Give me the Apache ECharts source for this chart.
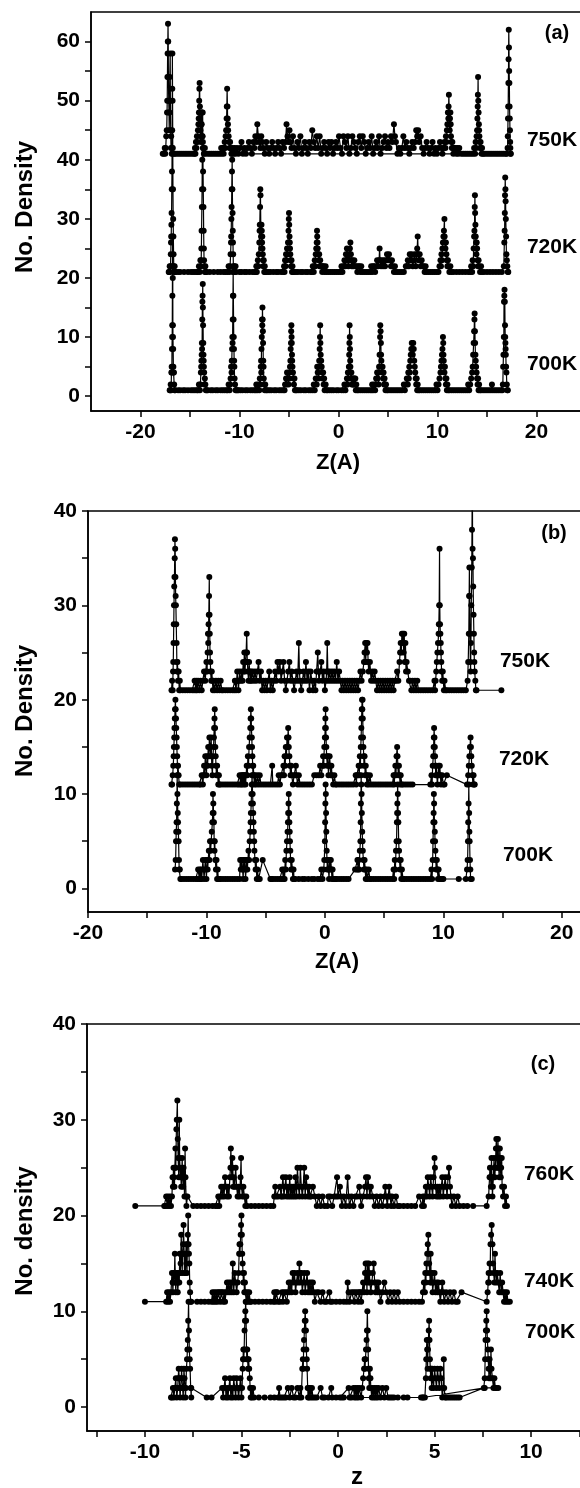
<!DOCTYPE html>
<html>
<head>
<meta charset="utf-8">
<title>No. Density</title>
<script src="https://cdn.jsdelivr.net/npm/echarts@6.0.0/dist/echarts.min.js"></script>
<style>
    html, body { margin: 0; padding: 0; background: #fff; overflow: hidden; }
    #main { width: 640px; height: 1488px; }
</style>
</head>
<body>
<div id="main"></div>
<script type="text/javascript">
    // ---- panel (a) ----
    var a700 = [[-17.05,1],[-17.0,1],[-16.95,2],[-16.9,1],[-16.88,4],[-16.85,5],[-16.83,4],[-16.82,8],[-16.8,10],[-16.79,12],[-16.78,17],[-16.77,22],[-16.76,27],[-16.74,20],[-16.73,12],[-16.72,10],[-16.7,8],[-16.68,5],[-16.66,4],[-16.63,4],[-16.6,2],[-16.55,1],[-16.5,1],
        [-16.2,1],[-16.0,1],[-15.7,1],[-15.5,1],[-15.2,1],[-14.9,1],[-14.7,1],[-14.5,1],[-14.3,1],
        [-14.2,1],[-14.1,2],[-14.0,1],[-13.95,2],[-13.9,4],[-13.87,5],[-13.85,6],[-13.82,7],[-13.8,9],[-13.78,8],[-13.76,13],[-13.75,16],[-13.73,17],[-13.71,19],[-13.7,15],[-13.68,12],[-13.66,9],[-13.64,7],[-13.62,6],[-13.6,5],[-13.57,4],[-13.55,2],[-13.5,3],[-13.45,2],[-13.4,1],[-13.3,1],[-13.2,1],
        [-12.9,1],[-12.7,1],[-12.4,1],[-12.2,1],[-11.9,1],[-11.7,1],[-11.5,1],[-11.3,1],
        [-11.2,1],[-11.1,2],[-11.0,1],[-10.95,2],[-10.9,3],[-10.85,5],[-10.8,4],[-10.78,6],[-10.75,8],[-10.72,10],[-10.7,9],[-10.68,13],[-10.66,17],[-10.64,21],[-10.62,17],[-10.6,13],[-10.58,10],[-10.56,8],[-10.54,6],[-10.52,5],[-10.5,3],[-10.45,2],[-10.4,1],[-10.3,1],[-10.2,1],[-10.1,1],
        [-9.9,1],[-9.7,1],[-9.4,1],[-9.2,1],[-8.9,1],[-8.7,1],[-8.5,1],
        [-8.35,1],[-8.3,2],[-8.2,1],[-8.1,2],[-8.0,1],[-7.95,3],[-7.9,2],[-7.85,5],[-7.82,6],[-7.8,4],[-7.78,8],[-7.75,10],[-7.72,13],[-7.7,12],[-7.68,15],[-7.66,13],[-7.64,11],[-7.62,9],[-7.6,6],[-7.57,5],[-7.55,3],[-7.5,2],[-7.45,1],[-7.4,2],[-7.3,1],[-7.2,1],
        [-7.0,1],[-6.8,1],[-6.5,1],[-6.3,1],[-6.0,1],[-5.8,1],[-5.6,1],
        [-5.45,1],[-5.4,2],[-5.3,3],[-5.25,2],[-5.2,4],[-5.1,3],[-5.05,2],[-5.0,4],[-4.95,3],[-4.9,5],[-4.86,6],[-4.83,8],[-4.8,9],[-4.78,11],[-4.76,12],[-4.74,10],[-4.72,9],[-4.7,7],[-4.68,6],[-4.65,5],[-4.6,4],[-4.55,3],[-4.5,2],[-4.45,3],[-4.4,1],[-4.3,1],[-4.2,1],
        [-4.0,1],[-3.8,1],[-3.5,1],[-3.3,1],[-3.0,1],[-2.8,1],[-2.6,1],
        [-2.5,2],[-2.4,1],[-2.3,3],[-2.2,2],[-2.15,5],[-2.1,4],[-2.05,5],[-2.0,3],[-1.95,6],[-1.9,8],[-1.87,10],[-1.85,12],[-1.83,9],[-1.8,7],[-1.77,5],[-1.75,6],[-1.7,5],[-1.65,4],[-1.6,3],[-1.55,4],[-1.5,2],[-1.45,3],[-1.4,1],[-1.3,2],[-1.2,1],[-1.1,1],
        [-0.9,1],[-0.7,1],[-0.5,1],[-0.2,1],[0.0,1],[0.3,1],[0.5,1],
        [0.6,2],[0.7,1],[0.8,2],[0.85,3],[0.9,2],[0.95,4],[1.0,3],[1.05,5],[1.08,7],[1.1,9],[1.12,12],[1.14,10],[1.16,8],[1.18,6],[1.2,5],[1.22,4],[1.25,3],[1.3,4],[1.35,2],[1.4,3],[1.45,2],[1.5,3],[1.55,2],[1.6,3],[1.65,2],[1.7,3],[1.75,1],[1.8,2],[1.9,1],[2.0,1],
        [2.2,1],[2.4,1],[2.6,1],[2.8,1],[3.0,1],[3.2,1],
        [3.35,1],[3.4,2],[3.5,1],[3.6,2],[3.7,1],[3.75,2],[3.8,3],[3.9,4],[3.95,3],[4.0,4],[4.05,2],[4.1,5],[4.15,7],[4.2,10],[4.22,12],[4.25,11],[4.28,9],[4.3,7],[4.33,6],[4.35,5],[4.4,4],[4.45,5],[4.5,3],[4.55,4],[4.6,2],[4.65,3],[4.7,2],[4.75,1],[4.8,2],[4.9,1],[5.0,1],
        [5.2,1],[5.4,1],[5.6,1],[5.8,1],[6.0,1],[6.2,1],[6.4,1],
        [6.6,2],[6.7,1],[6.8,2],[6.9,3],[7.0,2],[7.05,4],[7.1,3],[7.15,5],[7.2,4],[7.25,6],[7.3,7],[7.35,8],[7.4,9],[7.45,8],[7.5,7],[7.55,9],[7.6,8],[7.65,6],[7.7,5],[7.75,4],[7.8,3],[7.85,2],[7.9,3],[7.95,1],[8.0,2],[8.1,1],[8.2,1],
        [8.4,1],[8.6,1],[8.8,1],[9.0,1],[9.2,1],[9.4,1],[9.6,1],
        [9.8,1],[9.9,2],[10.0,1],[10.1,2],[10.2,3],[10.3,4],[10.35,5],[10.4,6],[10.45,7],[10.5,8],[10.55,10],[10.58,9],[10.6,7],[10.63,6],[10.66,5],[10.7,4],[10.75,5],[10.8,3],[10.85,2],[10.9,3],[10.95,1],[11.0,2],[11.1,1],[11.2,1],
        [11.4,1],[11.6,1],[11.8,1],[12.0,1],[12.2,1],[12.4,1],[12.6,1],[12.8,1],
        [13.0,1],[13.1,2],[13.2,1],[13.3,2],[13.4,3],[13.5,4],[13.55,5],[13.6,7],[13.65,9],[13.7,11],[13.73,13],[13.75,14],[13.78,11],[13.8,9],[13.83,7],[13.86,6],[13.9,5],[13.95,4],[14.0,3],[14.05,2],[14.1,3],[14.15,1],[14.2,2],[14.3,1],[14.4,1],
        [14.6,1],[14.8,1],[15.0,1],[15.2,1],[15.4,1],[15.5,2],[15.6,1],[15.8,1],[16.0,1],[16.2,1],[16.4,1],
        [16.55,1],[16.6,2],[16.63,5],[16.66,7],[16.7,10],[16.72,16],[16.75,17],[16.77,18],[16.8,16],[16.82,12],[16.84,10],[16.86,9],[16.88,8],[16.9,7],[16.93,5],[16.96,4],[17.0,2],[17.05,1],[17.1,1]];

    var a720 = [[-17.15,21],[-17.1,21],[-17.05,22],[-17.0,21],[-16.97,22],[-16.94,24],[-16.92,26],[-16.9,27],[-16.88,29],[-16.86,31],[-16.84,35],[-16.82,38],[-16.8,45],[-16.79,52],[-16.78,58],[-16.76,50],[-16.74,42],[-16.72,35],[-16.7,30],[-16.68,27],[-16.66,24],[-16.64,22],[-16.6,21],[-16.55,22],[-16.5,21],[-16.45,21],
        [-16.2,21],[-16.0,21],[-15.6,21],[-15.2,21],[-14.9,21],[-14.7,21],[-14.5,21],
        [-14.3,21],[-14.2,21],[-14.1,22],[-14.0,21],[-13.95,23],[-13.9,22],[-13.87,23],[-13.85,25],[-13.83,28],[-13.8,32],[-13.78,35],[-13.76,40],[-13.74,44],[-13.72,48],[-13.7,42],[-13.68,38],[-13.66,35],[-13.64,32],[-13.62,28],[-13.6,25],[-13.58,23],[-13.55,22],[-13.5,21],[-13.45,22],[-13.4,21],[-13.3,21],
        [-13.0,21],[-12.6,21],[-12.2,21],[-11.9,21],[-11.6,21],[-11.4,21],
        [-11.2,21],[-11.1,22],[-11.0,21],[-10.95,22],[-10.9,24],[-10.86,26],[-10.84,27],[-10.82,30],[-10.8,32],[-10.78,35],[-10.76,38],[-10.74,40],[-10.72,35],[-10.7,31],[-10.68,28],[-10.66,26],[-10.64,24],[-10.62,22],[-10.6,21],[-10.55,22],[-10.5,21],[-10.4,22],[-10.35,21],
        [-10.0,21],[-9.8,21],[-9.5,21],[-9.3,21],[-9.0,21],[-8.7,21],[-8.5,21],
        [-8.35,21],[-8.3,22],[-8.25,21],[-8.2,22],[-8.15,23],[-8.1,22],[-8.05,24],[-8.0,26],[-7.97,28],[-7.95,29],[-7.92,32],[-7.9,35],[-7.88,34],[-7.85,29],[-7.82,27],[-7.8,25],[-7.78,29],[-7.75,28],[-7.72,26],[-7.7,27],[-7.68,25],[-7.65,24],[-7.62,23],[-7.6,22],[-7.55,23],[-7.5,21],[-7.45,22],[-7.4,21],[-7.3,21],
        [-7.1,21],[-6.9,21],[-6.6,21],[-6.3,21],[-6.1,21],[-5.8,21],
        [-5.6,21],[-5.5,22],[-5.45,21],[-5.4,23],[-5.35,22],[-5.3,24],[-5.25,23],[-5.2,25],[-5.15,24],[-5.1,26],[-5.05,28],[-5.02,30],[-5.0,31],[-4.98,29],[-4.95,27],[-4.92,26],[-4.9,25],[-4.87,24],[-4.85,23],[-4.8,22],[-4.75,23],[-4.7,21],[-4.65,22],[-4.6,21],[-4.5,21],
        [-4.3,21],[-4.1,21],[-3.8,21],[-3.6,21],[-3.3,21],[-3.1,21],[-2.8,21],
        [-2.7,21],[-2.6,22],[-2.5,21],[-2.45,22],[-2.4,23],[-2.35,22],[-2.3,24],[-2.25,25],[-2.2,26],[-2.17,28],[-2.15,27],[-2.12,26],[-2.1,25],[-2.05,24],[-2.0,23],[-1.95,24],[-1.9,22],[-1.85,23],[-1.8,22],[-1.7,22],[-1.65,21],[-1.6,22],[-1.5,22],[-1.4,21],[-1.3,22],[-1.2,21],
        [-1.0,21],[-0.8,21],[-0.6,21],[-0.4,21],[-0.2,21],[0.0,21],
        [0.2,21],[0.3,22],[0.4,21],[0.5,22],[0.6,23],[0.7,22],[0.75,24],[0.8,23],[0.85,25],[0.9,24],[0.95,23],[1.0,22],[1.05,24],[1.1,23],[1.15,25],[1.2,26],[1.25,24],[1.3,23],[1.35,22],[1.4,23],[1.5,22],[1.6,23],[1.7,22],[1.8,22],[1.9,21],[2.0,22],[2.1,22],[2.2,21],[2.3,22],[2.4,21],
        [2.6,21],[2.8,21],[3.0,21],[3.2,21],
        [3.3,22],[3.4,21],[3.5,22],[3.6,22],[3.7,21],[3.8,22],[3.9,23],[4.0,22],[4.1,23],[4.15,25],[4.2,23],[4.3,22],[4.4,23],[4.5,22],[4.6,23],[4.7,22],[4.8,23],[4.9,24],[5.0,23],[5.1,24],[5.2,23],[5.3,22],[5.4,23],[5.5,22],[5.6,21],[5.7,22],[5.8,21],
        [6.0,21],[6.2,21],[6.4,21],[6.6,21],
        [6.8,22],[6.9,22],[7.0,23],[7.1,22],[7.2,24],[7.3,23],[7.4,24],[7.5,22],[7.6,23],[7.7,24],[7.8,22],[7.9,24],[7.95,25],[8.0,27],[8.05,24],[8.1,23],[8.2,24],[8.3,22],[8.4,23],[8.5,22],[8.6,22],[8.7,21],[8.8,22],[8.9,21],
        [9.1,21],[9.3,21],[9.5,21],[9.7,21],[9.9,21],
        [10.1,21],[10.2,22],[10.3,23],[10.35,22],[10.4,24],[10.45,23],[10.5,25],[10.55,26],[10.6,27],[10.65,28],[10.7,30],[10.72,27],[10.75,26],[10.8,25],[10.85,26],[10.9,24],[10.95,23],[11.0,22],[11.05,23],[11.1,22],[11.2,21],[11.3,22],[11.4,21],
        [11.6,21],[11.9,21],[12.2,21],[12.5,21],[12.8,21],[13.1,21],
        [13.3,21],[13.4,22],[13.5,21],[13.55,23],[13.6,22],[13.65,25],[13.7,27],[13.73,28],[13.76,32],[13.78,34],[13.8,31],[13.83,29],[13.86,27],[13.9,26],[13.93,24],[13.96,26],[14.0,25],[14.05,23],[14.1,22],[14.15,23],[14.2,22],[14.3,21],[14.4,22],[14.5,21],
        [14.7,21],[15.0,21],[15.3,21],[15.6,21],[15.9,21],[16.2,21],[16.5,21],
        [16.7,22],[16.75,26],[16.78,28],[16.8,31],[16.82,34],[16.84,37],[16.86,35],[16.88,33],[16.9,30],[16.93,27],[16.96,24],[17.0,23],[17.05,22],[17.1,21],[17.15,21]];

    var a750 = [[-17.75,41],[-17.65,41],[-17.55,42],[-17.5,41],[-17.45,42],[-17.4,44],[-17.35,45],[-17.32,48],[-17.3,50],[-17.28,54],[-17.26,58],[-17.24,60],[-17.22,63],[-17.2,60],[-17.18,54],[-17.15,50],[-17.12,48],[-17.1,45],[-17.07,48],[-17.04,54],[-17.0,58],[-16.98,50],[-16.95,45],[-16.92,42],[-16.9,44],[-16.85,41],[-16.8,42],[-16.75,41],[-16.6,41],[-16.5,41],
        [-16.3,41],[-16.1,41],[-15.9,41],[-15.7,41],[-15.5,41],[-15.3,41],[-15.1,41],[-14.9,41],[-14.7,41],
        [-14.55,41],[-14.5,42],[-14.45,41],[-14.4,43],[-14.35,42],[-14.3,44],[-14.25,43],[-14.2,45],[-14.15,46],[-14.12,47],[-14.1,48],[-14.07,50],[-14.05,52],[-14.03,53],[-14.0,49],[-13.97,46],[-13.95,45],[-13.92,44],[-13.9,43],[-13.87,46],[-13.85,48],[-13.82,46],[-13.8,48],[-13.75,44],[-13.7,43],[-13.65,42],[-13.6,41],[-13.5,42],[-13.45,41],
        [-13.2,41],[-13.0,41],[-12.8,41],[-12.6,41],[-12.4,41],[-12.2,41],[-12.0,41],
        [-11.85,42],[-11.8,41],[-11.7,42],[-11.6,41],[-11.55,42],[-11.5,43],[-11.45,42],[-11.4,44],[-11.35,45],[-11.3,47],[-11.28,49],[-11.25,52],[-11.22,49],[-11.2,47],[-11.17,46],[-11.15,45],[-11.1,44],[-11.05,43],[-11.0,42],[-10.95,43],[-10.9,42],[-10.8,41],[-10.7,42],[-10.6,41],[-10.5,42],
        [-10.4,41],[-10.25,42],[-10.1,41],[-9.95,42],[-9.8,43],[-9.65,41],[-9.5,42],[-9.35,41],[-9.2,42],[-9.05,43],[-8.9,42],[-8.75,41],[-8.6,43],[-8.5,42],[-8.4,44],[-8.3,43],[-8.2,46],[-8.1,44],[-8.0,43],[-7.9,42],[-7.8,44],[-7.7,43],[-7.6,42],[-7.45,41],[-7.3,43],[-7.15,42],[-7.0,41],[-6.85,42],[-6.7,43],[-6.55,42],
        [-6.4,41],[-6.25,42],[-6.1,43],[-5.95,42],[-5.8,41],[-5.65,43],[-5.5,42],[-5.35,43],[-5.25,46],[-5.15,44],[-5.05,43],[-4.95,45],[-4.85,43],[-4.75,42],[-4.6,44],[-4.45,42],[-4.3,41],[-4.15,43],[-4.0,42],[-3.85,44],[-3.7,41],[-3.55,42],[-3.4,43],[-3.25,42],[-3.1,41],[-2.95,43],[-2.8,42],[-2.65,45],[-2.5,43],[-2.35,42],
        [-2.2,44],[-2.05,42],[-1.9,44],[-1.75,41],[-1.6,42],[-1.45,43],[-1.3,42],[-1.15,41],[-1.0,43],[-0.85,42],[-0.7,43],[-0.55,41],[-0.4,42],[-0.25,43],[-0.1,42],[0.05,44],[0.2,42],[0.35,41],[0.5,44],[0.65,43],[0.8,42],[0.95,44],[1.1,41],[1.25,42],[1.4,44],[1.55,43],[1.7,42],[1.85,41],[2.0,43],[2.15,44],
        [2.3,42],[2.45,44],[2.6,43],[2.75,41],[2.9,42],[3.05,43],[3.2,42],[3.35,44],[3.5,41],[3.65,42],[3.8,43],[3.95,42],[4.1,44],[4.25,41],[4.4,42],[4.55,43],[4.7,44],[4.85,42],[5.0,43],[5.15,42],[5.3,44],[5.45,43],[5.6,46],[5.7,44],[5.8,43],[5.95,41],[6.1,42],[6.25,41],[6.4,42],[6.55,44],
        [6.7,42],[6.85,43],[7.0,42],[7.15,41],[7.3,42],[7.45,43],[7.6,42],[7.75,43],[7.85,45],[7.95,44],[8.05,45],[8.15,43],[8.3,44],[8.45,42],[8.6,41],[8.75,42],[8.9,43],[9.05,42],[9.2,41],[9.35,42],[9.5,43],[9.65,41],[9.8,42],[9.95,41],[10.1,42],[10.25,43],
        [10.4,42],[10.5,41],[10.6,42],[10.7,43],[10.8,42],[10.85,44],[10.9,43],[10.95,45],[11.0,46],[11.05,48],[11.1,47],[11.12,49],[11.15,51],[11.18,48],[11.2,46],[11.23,45],[11.26,47],[11.3,48],[11.33,46],[11.36,44],[11.4,43],[11.45,42],[11.5,43],[11.55,42],[11.6,41],[11.7,42],[11.8,42],[11.9,41],[12.0,42],[12.1,41],[12.2,42],
        [12.4,41],[12.6,41],[12.8,41],[13.0,41],[13.2,41],[13.4,41],
        [13.6,41],[13.7,42],[13.8,41],[13.85,43],[13.9,42],[13.95,44],[14.0,45],[14.03,47],[14.06,49],[14.08,51],[14.1,54],[14.12,50],[14.15,48],[14.18,46],[14.2,45],[14.23,44],[14.26,43],[14.3,42],[14.35,43],[14.4,42],[14.45,41],[14.5,42],[14.6,41],[14.7,41],
        [14.9,41],[15.1,41],[15.3,41],[15.5,41],[15.7,41],[15.9,41],[16.1,41],[16.3,41],[16.5,41],[16.7,41],[16.9,41],[17.0,41],
        [17.08,42],[17.1,44],[17.12,47],[17.14,49],[17.16,53],[17.18,57],[17.2,62],[17.22,59],[17.24,55],[17.26,53],[17.28,49],[17.3,47],[17.32,45],[17.34,43],[17.36,42],[17.38,41],[17.4,41],[-10.8,41]];

    // ---- panel (b) ----
    var b700 = [[-12.65,2],[-12.6,3],[-12.57,5],[-12.55,6],[-12.52,7],[-12.5,9],[-12.47,12],[-12.45,10],[-12.42,8],[-12.4,7],[-12.37,6],[-12.35,5],[-12.32,3],[-12.3,2],[-12.25,2],[-12.2,1],[-12.1,1],
        [-11.9,1],[-11.7,1],[-11.5,1],[-11.3,1],[-11.1,1],[-10.9,1],
        [-10.75,1],[-10.7,2],[-10.6,1],[-10.55,2],[-10.5,1],[-10.45,2],[-10.4,1],[-10.3,3],[-10.25,2],[-10.2,1],[-10.1,3],[-10.05,2],[-10.0,1],[-9.95,3],[-9.9,2],[-9.85,3],[-9.8,4],[-9.75,3],[-9.7,5],[-9.65,4],[-9.6,5],[-9.55,6],[-9.5,7],[-9.47,8],[-9.45,10],[-9.42,9],[-9.4,8],[-9.37,7],[-9.35,5],[-9.32,4],[-9.3,5],[-9.25,3],[-9.2,2],[-9.15,3],[-9.1,1],[-9.05,2],[-9.0,1],[-8.9,1],[-8.8,1],
        [-8.6,1],[-8.4,1],[-8.2,1],[-8.0,1],[-7.8,1],[-7.6,1],[-7.4,1],
        [-7.2,1],[-7.15,3],[-7.1,2],[-7.0,3],[-6.95,2],[-6.9,1],[-6.85,3],[-6.8,2],[-6.75,3],[-6.7,1],[-6.65,2],[-6.6,3],[-6.55,2],[-6.5,3],[-6.45,4],[-6.4,3],[-6.35,5],[-6.3,6],[-6.27,7],[-6.25,8],[-6.22,9],[-6.2,10],[-6.17,11],[-6.15,12],[-6.13,11],[-6.1,10],[-6.08,9],[-6.05,8],[-6.03,7],[-6.0,6],[-5.97,5],[-5.95,4],[-5.9,3],[-5.85,2],[-5.8,3],[-5.75,1],[-5.7,2],[-5.6,1],[-5.5,1],[-5.25,3],
        [-4.6,1],[-4.5,1],[-4.4,1],[-4.2,1],[-4.0,1],[-3.8,1],
        [-3.65,1],[-3.6,2],[-3.5,1],[-3.45,2],[-3.4,1],[-3.35,3],[-3.3,2],[-3.25,4],[-3.2,5],[-3.15,6],[-3.12,7],[-3.1,8],[-3.07,9],[-3.05,10],[-3.02,8],[-3.0,7],[-2.97,6],[-2.95,5],[-2.92,4],[-2.9,3],[-2.85,2],[-2.8,3],[-2.75,2],[-2.7,1],[-2.65,2],[-2.6,1],[-2.5,1],
        [-2.2,1],[-1.9,1],[-1.7,1],[-1.4,1],[-1.1,1],[-0.9,1],[-0.6,1],
        [-0.4,1],[-0.3,2],[-0.2,1],[-0.1,2],[-0.05,3],[0.0,5],[0.02,7],[0.04,9],[0.06,11],[0.08,10],[0.1,8],[0.12,6],[0.15,4],[0.18,3],[0.2,2],[0.25,3],[0.3,2],[0.35,1],[0.4,3],[0.45,2],[0.5,3],[0.55,2],[0.6,1],[0.65,2],[0.7,1],[0.8,1],[0.9,1],[1.0,1],[1.2,1],[1.4,1],[1.6,1],[1.8,1],[2.0,1],
        [2.55,2],
        [2.7,2],[2.75,3],[2.8,2],[2.85,3],[2.9,2],[2.95,4],[3.0,5],[3.02,7],[3.04,9],[3.06,12],[3.08,11],[3.1,10],[3.12,8],[3.15,6],[3.18,5],[3.2,4],[3.25,3],[3.3,2],[3.35,3],[3.4,2],[3.45,1],[3.5,2],[3.6,1],[3.7,2],[3.8,1],[3.9,1],
        [4.1,1],[4.3,1],[4.5,1],[4.7,1],[4.9,1],[5.1,1],[5.3,1],[5.5,1],
        [5.7,1],[5.8,2],[5.85,1],[5.9,3],[5.95,2],[6.0,4],[6.05,5],[6.08,7],[6.1,8],[6.12,9],[6.14,11],[6.16,10],[6.18,8],[6.2,7],[6.23,5],[6.26,4],[6.3,3],[6.35,2],[6.4,3],[6.45,1],[6.5,2],[6.6,1],[6.7,1],
        [6.9,1],[7.1,1],[7.3,1],[7.5,1],[7.7,1],[7.9,1],[8.1,1],[8.3,1],[8.5,1],[8.7,1],
        [8.9,1],[9.0,2],[9.05,1],[9.1,3],[9.13,5],[9.16,7],[9.18,8],[9.2,10],[9.22,9],[9.25,7],[9.28,6],[9.3,5],[9.33,4],[9.36,3],[9.4,2],[9.45,3],[9.5,2],[9.55,1],[9.6,2],[9.7,1],[9.8,1],[9.9,1],[10.0,1],
        [11.3,1],[11.9,1],[12.0,2],
        [12.05,3],[12.08,5],[12.1,7],[12.13,9],[12.15,11],[12.18,8],[12.2,6],[12.22,5],[12.25,3],[12.28,2],[12.3,1],[12.4,1]];

    var b720 = [[-12.95,11],[-12.9,11],[-12.85,12],[-12.8,13],[-12.77,14],[-12.75,15],[-12.72,16],[-12.7,17],[-12.67,18],[-12.65,19],[-12.62,20],[-12.6,19],[-12.57,18],[-12.55,17],[-12.52,16],[-12.5,15],[-12.47,14],[-12.45,13],[-12.42,12],[-12.4,13],[-12.35,12],[-12.3,11],[-12.2,11],
        [-12.0,11],[-11.8,11],[-11.6,11],[-11.4,11],[-11.2,11],[-11.0,11],[-10.8,11],
        [-10.6,11],[-10.5,11],[-10.4,12],[-10.3,11],[-10.25,12],[-10.2,13],[-10.15,12],[-10.1,14],[-10.05,13],[-10.0,12],[-9.95,14],[-9.9,13],[-9.85,15],[-9.8,14],[-9.75,16],[-9.7,15],[-9.65,14],[-9.6,16],[-9.55,13],[-9.5,12],[-9.45,14],[-9.4,15],[-9.37,16],[-9.35,17],[-9.32,18],[-9.3,19],[-9.27,17],[-9.25,15],[-9.22,14],[-9.2,13],[-9.15,12],[-9.1,13],[-9.05,12],[-9.0,11],[-8.95,12],[-8.9,11],[-8.8,11],
        [-8.6,11],[-8.4,11],[-8.2,11],[-8.0,11],[-7.8,11],[-7.6,11],[-7.4,11],
        [-7.25,11],[-7.2,12],[-7.1,11],[-7.05,12],[-7.0,11],[-6.95,12],[-6.9,12],[-6.85,11],[-6.8,12],[-6.75,12],[-6.7,11],[-6.65,12],[-6.6,13],[-6.55,12],[-6.5,14],[-6.45,13],[-6.4,15],[-6.35,16],[-6.3,17],[-6.27,18],[-6.25,19],[-6.22,18],[-6.2,17],[-6.17,16],[-6.15,15],[-6.12,14],[-6.1,13],[-6.07,12],[-6.05,13],[-6.0,12],[-5.95,11],[-5.9,12],[-5.8,11],[-5.7,12],[-5.6,11],[-5.5,12],[-5.4,11],
        [-5.2,11],[-5.0,11],[-4.8,11],[-4.6,11],[-4.45,13],[-4.4,11],[-4.2,11],
        [-4.0,11],[-3.9,12],[-3.8,11],[-3.7,12],[-3.6,12],[-3.5,13],[-3.45,12],[-3.4,14],[-3.35,13],[-3.3,15],[-3.25,14],[-3.2,16],[-3.15,15],[-3.1,17],[-3.07,16],[-3.05,15],[-3.0,14],[-2.95,13],[-2.9,12],[-2.85,13],[-2.8,12],[-2.7,11],[-2.6,12],[-2.5,12],[-2.45,13],[-2.4,12],[-2.3,11],[-2.2,12],[-2.1,11],
        [-1.9,11],[-1.7,11],[-1.5,11],[-1.3,11],[-1.1,11],
        [-0.9,12],[-0.7,12],
        [-0.5,12],[-0.4,13],[-0.3,12],[-0.2,13],[-0.15,14],[-0.1,13],[-0.05,15],[0.0,16],[0.02,17],[0.04,18],[0.06,19],[0.08,17],[0.1,16],[0.12,15],[0.15,14],[0.2,13],[0.25,14],[0.3,12],[0.35,13],[0.4,14],[0.45,13],[0.5,12],[0.55,13],[0.6,12],[0.7,11],[0.8,12],[0.9,11],[1.0,11],
        [1.2,11],[1.4,11],[1.6,11],[1.8,11],[2.0,11],[2.2,11],[2.4,11],
        [2.6,12],[2.65,11],[2.7,12],[2.8,12],[2.85,13],[2.9,12],[2.95,14],[3.0,13],[3.03,15],[3.06,16],[3.08,17],[3.1,18],[3.12,19],[3.14,20],[3.16,19],[3.18,20],[3.2,18],[3.22,16],[3.25,15],[3.28,14],[3.3,13],[3.35,14],[3.4,12],[3.45,13],[3.5,12],[3.55,11],[3.6,12],[3.7,11],[3.8,12],[3.9,11],
        [4.1,11],[4.3,11],[4.5,11],[4.7,11],[4.9,11],[5.1,11],[5.3,11],[5.5,11],
        [5.7,11],[5.8,12],[5.85,11],[5.9,12],[5.95,13],[6.0,12],[6.05,14],[6.1,15],[6.13,14],[6.16,13],[6.2,12],[6.25,13],[6.3,12],[6.35,11],[6.4,12],[6.5,11],[6.6,11],[6.8,11],[7.0,11],[7.2,11],
        [7.4,11],[8.9,11],
        [9.0,12],[9.05,11],[9.1,13],[9.15,14],[9.18,15],[9.2,16],[9.22,17],[9.25,16],[9.28,15],[9.3,14],[9.33,13],[9.36,12],[9.4,13],[9.45,12],[9.5,11],[9.55,12],[9.6,13],[9.65,12],[9.7,13],[9.75,12],[9.8,11],[9.9,12],[10.0,11],[10.1,11],[10.3,12],
        [12.0,11],
        [12.1,12],[12.15,13],[12.2,14],[12.25,15],[12.3,16],[12.33,15],[12.36,14],[12.4,13],[12.45,12],[12.5,11],[12.55,12],[12.6,11],[12.65,11]];

    var b750 = [[-12.95,21],[-12.9,22],[-12.85,21],[-12.82,23],[-12.8,24],[-12.78,26],[-12.76,28],[-12.74,30],[-12.72,32],[-12.7,33],[-12.68,35],[-12.66,37],[-12.64,36],[-12.62,33],[-12.6,31],[-12.58,30],[-12.55,28],[-12.52,26],[-12.5,24],[-12.47,23],[-12.45,24],[-12.42,23],[-12.4,22],[-12.35,23],[-12.3,21],[-12.25,22],[-12.2,21],
        [-12.0,21],[-11.8,21],[-11.6,21],[-11.4,21],[-11.2,21],
        [-11.05,21],[-11.0,22],[-10.9,21],[-10.85,22],[-10.8,21],[-10.7,22],[-10.6,21],[-10.5,22],[-10.4,21],[-10.3,22],[-10.2,23],[-10.1,22],[-10.05,23],[-10.0,24],[-9.95,23],[-9.9,25],[-9.87,27],[-9.85,26],[-9.82,28],[-9.8,29],[-9.78,31],[-9.76,33],[-9.74,29],[-9.72,27],[-9.7,25],[-9.67,24],[-9.65,23],[-9.6,22],[-9.55,23],[-9.5,22],[-9.45,21],[-9.4,22],[-9.3,21],[-9.2,22],[-9.1,21],[-9.0,22],[-8.9,21],[-8.8,22],[-8.7,21],[-8.6,21],
        [-8.4,21],[-8.2,21],[-8.0,21],[-7.8,21],
        [-7.65,21],[-7.6,22],[-7.5,21],[-7.45,22],[-7.4,23],[-7.35,22],[-7.3,21],[-7.25,22],[-7.2,23],[-7.1,22],[-7.0,23],[-6.95,22],[-6.9,24],[-6.85,23],[-6.8,25],[-6.75,23],[-6.7,24],[-6.65,25],[-6.6,27],[-6.57,25],[-6.55,24],[-6.5,23],[-6.45,22],[-6.4,24],[-6.35,23],[-6.3,22],[-6.25,23],[-6.2,22],[-6.1,23],[-6.0,22],
        [-5.9,23],[-5.8,22],[-5.7,23],[-5.6,24],[-5.5,22],[-5.4,23],[-5.3,21],[-5.2,22],[-5.1,21],[-5.0,22],[-4.9,21],[-4.8,22],[-4.7,23],[-4.6,21],[-4.5,22],[-4.4,21],[-4.3,22],[-4.2,23],[-4.1,22],[-4.0,24],[-3.9,23],[-3.8,24],[-3.7,22],[-3.6,23],[-3.5,24],[-3.4,22],[-3.3,21],[-3.2,22],[-3.1,23],[-3.0,24],
        [-2.9,22],[-2.8,23],[-2.7,22],[-2.6,21],[-2.5,22],[-2.4,23],[-2.3,22],[-2.2,26],[-2.15,23],[-2.1,22],[-2.0,21],[-1.9,22],[-1.8,23],[-1.7,22],[-1.6,24],[-1.5,22],[-1.4,23],[-1.3,21],[-1.2,23],[-1.1,22],[-1.0,21],[-0.9,22],[-0.8,21],[-0.7,23],[-0.6,25],[-0.55,23],[-0.5,22],[-0.4,23],[-0.3,24],[-0.2,22],
        [-0.1,23],[0.0,21],[0.1,22],[0.15,23],[0.2,26],[0.25,23],[0.3,22],[0.4,23],[0.5,22],[0.6,23],[0.7,22],[0.8,23],[0.9,22],[1.0,24],[1.1,22],[1.2,23],[1.3,22],[1.4,21],[1.5,22],[1.6,21],[1.7,22],[1.8,21],[1.9,22],[2.0,21],[2.1,22],[2.2,21],[2.3,22],[2.4,21],[2.5,22],[2.6,21],
        [2.7,22],[2.8,21],[2.9,22],[3.0,23],[3.1,22],[3.2,23],[3.3,24],[3.35,25],[3.4,26],[3.45,24],[3.5,26],[3.55,25],[3.6,26],[3.65,24],[3.7,23],[3.8,24],[3.9,22],[4.0,23],[4.1,22],[4.2,23],[4.3,22],[4.4,21],[4.5,22],[4.6,21],[4.7,22],[4.8,21],[4.9,22],[5.0,21],[5.1,22],[5.2,21],
        [5.3,22],[5.4,21],[5.5,22],[5.6,21],[5.7,22],[5.8,21],[5.9,22],[6.0,22],[6.1,23],[6.2,22],[6.3,24],[6.35,25],[6.4,26],[6.45,25],[6.5,27],[6.55,26],[6.6,27],[6.65,25],[6.7,27],[6.75,24],[6.8,26],[6.85,23],[6.9,24],[7.0,23],[7.1,22],[7.2,22],[7.3,21],[7.4,22],[7.5,21],[7.6,22],
        [7.7,21],[7.8,22],[7.9,21],
        [8.1,21],[8.3,21],[8.5,21],[8.7,21],[8.9,21],[9.1,21],
        [9.25,22],[9.3,21],[9.35,22],[9.4,23],[9.45,24],[9.5,25],[9.55,26],[9.6,27],[9.62,28],[9.65,30],[9.68,36],[9.7,30],[9.72,28],[9.75,27],[9.78,26],[9.8,25],[9.83,24],[9.85,23],[9.9,22],[9.95,23],[10.0,22],[10.05,21],[10.1,22],[10.2,21],[10.3,21],
        [10.5,21],[10.7,21],[10.9,21],[11.1,21],[11.3,21],[11.5,21],[11.7,21],[11.9,21],
        [12.05,22],[12.1,24],[12.15,27],[12.18,31],[12.2,34],[12.22,31],[12.25,27],[12.28,24],[12.3,23],[12.33,26],[12.36,30],[12.4,34],[12.42,38],[12.45,45],[12.47,36],[12.5,35],[12.52,32],[12.55,29],[12.58,27],[12.6,25],[12.62,24],[12.65,23],[12.7,22],[12.75,21],[12.8,21],[14.9,21]];

    // ---- panel (c) ----
    var c700 = [[-8.65,1],[-8.6,1],[-8.55,2],[-8.5,1],[-8.45,2],[-8.4,3],[-8.38,2],[-8.35,1],[-8.3,2],[-8.28,3],[-8.25,4],[-8.22,3],[-8.2,2],[-8.18,1],[-8.15,2],[-8.12,3],[-8.1,4],[-8.08,3],[-8.05,2],[-8.02,1],[-8.0,2],[-7.98,4],[-7.95,3],[-7.92,2],[-7.9,1],[-7.88,2],[-7.85,4],[-7.82,5],[-7.8,6],[-7.78,7],[-7.76,9],[-7.74,11],[-7.72,8],[-7.7,6],[-7.68,5],[-7.66,4],[-7.63,2],[-7.6,1],
        [-7.6,2],[-6.8,1],[-6.55,1],[-6.0,2],
        [-5.95,1],[-5.9,2],[-5.85,3],[-5.8,1],[-5.75,2],[-5.7,1],[-5.65,2],[-5.6,3],[-5.55,1],[-5.5,2],[-5.45,1],[-5.4,3],[-5.35,2],[-5.3,1],[-5.25,3],[-5.2,2],[-5.15,1],[-5.1,2],[-5.05,3],[-5.0,1],[-4.97,2],[-4.94,4],[-4.92,5],[-4.9,6],[-4.88,5],[-4.86,6],[-4.84,8],[-4.82,9],[-4.8,10],[-4.78,11],[-4.76,9],[-4.74,6],[-4.72,5],[-4.7,6],[-4.68,5],[-4.66,4],[-4.63,5],[-4.6,4],[-4.57,3],[-4.55,2],[-4.52,1],[-4.5,2],[-4.45,1],[-4.4,2],[-4.35,1],
        [-4.1,1],[-3.8,1],[-3.5,1],[-3.3,1],
        [-3.1,1],[-3.05,2],[-3.0,1],[-2.9,1],[-2.8,1],[-2.7,1],[-2.6,2],[-2.5,1],[-2.4,2],[-2.3,1],[-2.2,1],[-2.1,2],[-2.0,1],[-1.95,2],[-1.9,1],[-1.85,4],[-1.82,5],[-1.8,4],[-1.78,6],[-1.76,7],[-1.74,8],[-1.72,9],[-1.7,10],[-1.68,9],[-1.66,8],[-1.64,6],[-1.62,5],[-1.6,4],[-1.57,2],[-1.55,1],[-1.52,2],[-1.5,1],[-1.45,2],[-1.4,1],[-1.35,2],[-1.3,1],[-1.2,1],[-1.1,1],[-0.9,2],[-0.8,1],[-0.7,1],[-0.5,1],[-0.35,2],[-0.3,1],
        [-0.1,1],[0.1,1],[0.2,1],
        [0.55,2],[0.6,1],[0.7,1],[0.8,2],[0.85,1],[0.9,2],[0.95,1],[1.0,2],[1.05,1],[1.1,2],[1.2,1],[1.25,2],[1.3,3],[1.35,4],[1.38,5],[1.4,4],[1.42,5],[1.45,6],[1.48,7],[1.5,8],[1.52,10],[1.54,8],[1.56,6],[1.58,4],[1.6,3],[1.62,2],[1.65,4],[1.68,3],[1.7,2],[1.75,1],[1.8,2],[1.85,1],[1.9,2],[1.95,1],[2.0,2],[2.05,1],[2.1,2],[2.2,1],[2.3,2],[2.4,1],[2.5,2],[2.6,1],[2.7,1],[2.8,1],[2.9,1],[3.1,1],
        [3.4,1],[3.6,1],
        [4.3,1],[4.4,1],[4.5,1],[4.55,3],[4.57,5],[4.6,7],[4.62,6],[4.64,4],[4.66,6],[4.68,7],[4.7,8],[4.72,9],[4.74,7],[4.76,5],[4.78,4],[4.8,3],[4.82,4],[4.85,2],[4.88,4],[4.9,3],[4.95,2],[5.0,4],[5.05,3],[5.1,2],[5.15,4],[5.2,3],[5.25,2],[5.3,4],[5.35,3],[5.4,1],[5.45,2],[5.48,5],[5.5,2],[5.55,1],[5.6,1],[5.7,1],[5.8,1],[5.9,1],[6.0,1],[6.1,1],[6.2,1],[6.3,1],
        [7.55,2],
        [7.6,3],[7.62,5],[7.64,7],[7.66,8],[7.68,9],[7.7,10],[7.72,8],[7.74,7],[7.76,6],[7.78,5],[7.8,4],[7.82,3],[7.85,5],[7.88,4],[7.9,3],[7.92,6],[7.95,4],[8.0,3],[8.05,2],[8.1,3],[8.15,2],[8.2,2],[8.3,2],
        [7.6,2],[4.4,1],[0.3,1]];

    var c740 = [[-10.0,11],[-8.9,11],[-8.85,12],[-8.8,11],[-8.75,12],[-8.7,11],[-8.65,12],[-8.6,14],[-8.57,13],[-8.55,12],[-8.52,14],[-8.5,13],[-8.47,14],[-8.45,16],[-8.42,13],[-8.4,12],[-8.37,14],[-8.35,13],[-8.32,14],[-8.3,12],[-8.27,13],[-8.25,14],[-8.22,13],[-8.2,16],[-8.17,14],[-8.15,15],[-8.12,18],[-8.1,16],[-8.07,14],[-8.05,16],[-8.02,17],[-8.0,19],[-7.97,16],[-7.95,14],[-7.92,16],[-7.9,14],[-7.87,17],[-7.85,16],[-7.82,14],[-7.8,17],[-7.78,18],[-7.76,20],[-7.74,17],[-7.72,16],[-7.7,15],[-7.68,13],[-7.66,12],[-7.63,11],[-7.6,11],
        [-7.3,11],[-7.1,11],[-6.9,11],[-6.7,11],
        [-6.55,11],[-6.5,12],[-6.45,11],[-6.4,12],[-6.35,11],[-6.3,12],[-6.25,11],[-6.2,12],[-6.15,12],[-6.1,11],[-6.05,12],[-6.0,12],[-5.95,11],[-5.9,12],[-5.85,11],[-5.8,12],[-5.75,13],[-5.7,12],[-5.65,13],[-5.6,12],[-5.55,13],[-5.5,12],[-5.45,15],[-5.42,13],[-5.4,12],[-5.35,14],[-5.3,13],[-5.25,12],[-5.2,13],[-5.15,14],[-5.12,16],[-5.1,17],[-5.08,16],[-5.06,17],[-5.04,18],[-5.02,19],[-5.0,20],[-4.98,18],[-4.96,16],[-4.94,15],[-4.92,14],[-4.9,13],[-4.87,14],[-4.85,12],[-4.82,13],[-4.8,12],[-4.75,11],[-4.7,12],[-4.65,11],[-4.6,12],[-4.55,11],[-4.5,11],
        [-4.3,11],[-4.1,11],[-3.9,11],[-3.7,11],[-3.5,11],
        [-3.35,11],[-3.3,12],[-3.25,11],[-3.2,12],[-3.15,12],[-3.1,11],[-3.0,11],[-2.9,12],[-2.85,11],[-2.8,12],[-2.7,12],[-2.65,11],[-2.6,12],[-2.55,13],[-2.5,12],[-2.45,13],[-2.4,12],[-2.35,14],[-2.3,13],[-2.25,14],[-2.2,12],[-2.15,13],[-2.1,14],[-2.05,13],[-2.0,15],[-1.97,14],[-1.95,13],[-1.9,14],[-1.85,12],[-1.8,13],[-1.75,14],[-1.7,12],[-1.65,13],[-1.6,14],[-1.55,12],[-1.5,13],[-1.45,12],[-1.4,13],[-1.35,12],[-1.3,13],[-1.25,12],[-1.2,11],[-1.1,12],[-1.0,12],[-0.9,11],[-0.8,12],[-0.7,11],[-0.6,11],[-0.45,12],[-0.4,11],[-0.3,11],
        [-0.1,11],[0.1,11],[0.3,11],
        [0.45,11],[0.5,13],[0.55,12],[0.6,11],[0.7,12],[0.8,12],[0.85,11],[0.9,12],[1.0,12],[1.05,11],[1.1,12],[1.15,12],[1.2,11],[1.25,12],[1.3,13],[1.35,12],[1.4,14],[1.43,15],[1.45,13],[1.48,14],[1.5,12],[1.52,15],[1.55,14],[1.58,13],[1.6,15],[1.63,14],[1.65,13],[1.7,12],[1.75,13],[1.8,14],[1.85,15],[1.9,13],[1.95,12],[2.0,13],[2.05,12],[2.1,13],[2.15,12],[2.2,11],[2.3,12],[2.4,13],[2.5,12],[2.6,11],[2.7,12],[2.8,11],[2.9,12],[3.0,11],[3.1,12],[3.2,11],
        [3.4,11],[3.6,11],[3.8,11],[4.0,11],[4.2,11],
        [4.35,11],[4.4,12],[4.45,13],[4.5,12],[4.52,14],[4.55,13],[4.58,15],[4.6,14],[4.62,16],[4.65,17],[4.68,18],[4.7,16],[4.72,15],[4.75,14],[4.78,13],[4.8,16],[4.82,14],[4.85,13],[4.88,14],[4.9,12],[4.95,13],[5.0,14],[5.05,12],[5.1,13],[5.15,12],[5.2,13],[5.25,12],[5.3,11],[5.35,12],[5.4,13],[5.45,12],[5.5,11],[5.6,12],[5.7,11],[5.8,12],[5.9,11],[6.0,12],[6.1,11],[6.2,11],[6.4,12],
        [7.7,11],
        [7.75,12],[7.78,13],[7.8,14],[7.82,13],[7.85,15],[7.88,14],[7.9,17],[7.93,18],[7.96,19],[8.0,17],[8.03,15],[8.06,14],[8.1,13],[8.13,16],[8.16,14],[8.2,13],[8.25,14],[8.3,13],[8.35,12],[8.4,14],[8.45,12],[8.5,13],[8.55,12],[8.6,11],[8.65,12],[8.7,11],[8.75,12],[8.8,11],[8.9,11]];

    var c760 = [[-10.5,21],[-9.0,21],[-8.95,21],[-8.9,22],[-8.85,21],[-8.8,22],[-8.75,21],[-8.7,22],[-8.65,21],[-8.6,22],[-8.57,24],[-8.55,23],[-8.52,25],[-8.5,24],[-8.47,23],[-8.45,25],[-8.42,27],[-8.4,25],[-8.37,29],[-8.35,30],[-8.32,32],[-8.3,28],[-8.28,26],[-8.25,24],[-8.22,30],[-8.2,26],[-8.17,24],[-8.15,25],[-8.12,23],[-8.1,24],[-8.07,26],[-8.05,24],[-8.02,23],[-8.0,25],[-7.97,24],[-7.95,22],[-7.92,27],[-7.9,24],[-7.87,22],[-7.85,21],[-7.8,22],
        [-7.5,21],
        [-7.3,21],[-7.1,21],[-6.9,21],[-6.7,21],[-6.5,21],[-6.35,21],
        [-6.25,21],[-6.2,22],[-6.15,21],[-6.1,22],[-6.05,23],[-6.0,22],[-5.95,23],[-5.9,22],[-5.85,24],[-5.8,23],[-5.75,22],[-5.7,23],[-5.65,22],[-5.6,24],[-5.57,25],[-5.55,27],[-5.52,25],[-5.5,24],[-5.47,26],[-5.45,25],[-5.42,23],[-5.4,24],[-5.35,23],[-5.3,25],[-5.25,23],[-5.2,22],[-5.15,23],[-5.1,22],[-5.05,24],[-5.02,26],[-5.0,23],[-4.95,22],[-4.9,23],[-4.85,22],[-4.8,21],[-4.75,22],[-4.7,21],
        [-4.5,21],[-4.3,21],[-4.1,21],[-3.9,21],[-3.7,21],[-3.5,21],
        [-3.35,21],[-3.3,22],[-3.25,23],[-3.2,22],[-3.1,22],[-3.0,23],[-2.95,22],[-2.9,22],[-2.85,24],[-2.8,22],[-2.75,23],[-2.7,24],[-2.65,22],[-2.6,23],[-2.55,22],[-2.5,24],[-2.45,22],[-2.4,23],[-2.35,22],[-2.3,23],[-2.25,22],[-2.2,24],[-2.15,22],[-2.1,25],[-2.05,23],[-2.0,22],[-1.95,25],[-1.9,23],[-1.85,22],[-1.8,23],[-1.75,25],[-1.7,22],[-1.65,24],[-1.6,23],[-1.55,22],[-1.5,23],[-1.45,22],[-1.4,22],[-1.3,23],[-1.2,22],[-1.1,21],[-1.0,22],[-0.9,21],[-0.8,22],[-0.7,21],
        [-0.55,21],[-0.5,22],[-0.4,22],[-0.3,21],[-0.2,22],[-0.1,22],[-0.05,24],[0.0,22],[0.1,23],[0.15,22],[0.2,21],[0.3,22],[0.4,21],[0.5,24],[0.55,22],[0.6,21],[0.7,22],[0.8,21],[0.9,22],[1.0,22],[1.1,23],[1.15,22],[1.2,21],[1.3,22],[1.4,23],[1.45,24],[1.5,22],[1.55,24],[1.6,23],[1.65,22],[1.7,23],[1.8,22],[1.9,21],[2.0,22],
        [2.1,21],[2.2,22],[2.3,21],[2.4,22],[2.45,23],[2.5,22],[2.55,21],[2.6,22],[2.65,23],[2.7,22],[2.75,21],[2.8,22],[2.9,21],[3.0,22],[3.1,21],[3.2,21],[3.4,21],[3.6,21],[3.8,21],[4.0,21],[4.2,22],
        [4.35,21],[4.4,22],[4.45,21],[4.5,22],[4.55,23],[4.6,22],[4.65,24],[4.7,23],[4.75,22],[4.8,24],[4.85,23],[4.9,22],[4.95,24],[5.0,26],[5.02,25],[5.05,23],[5.1,22],[5.15,23],[5.2,22],[5.25,23],[5.3,22],[5.35,23],[5.4,24],[5.45,22],[5.5,23],[5.55,24],[5.6,23],[5.65,22],[5.7,24],[5.75,25],[5.8,23],[5.85,22],[5.9,21],[6.0,22],[6.1,21],[6.2,22],[6.3,21],
        [6.5,21],[6.7,21],[7.0,21],[7.7,21],[7.8,22],
        [7.85,24],[7.87,25],[7.9,24],[7.92,23],[7.95,26],[7.97,24],[8.0,22],[8.02,23],[8.05,24],[8.08,26],[8.1,25],[8.12,24],[8.15,25],[8.18,27],[8.2,28],[8.22,26],[8.25,25],[8.28,28],[8.3,27],[8.32,25],[8.35,24],[8.38,27],[8.4,26],[8.43,24],[8.45,25],[8.48,26],[8.5,23],[8.55,22],[8.6,23],[8.65,21],[8.7,22],[8.75,21]];

    // ticks / labels
    var yTicks40 = [0, 5, 10, 15, 20, 25, 30, 35, 40];
    var yLabels40 = [0, 10, 20, 30, 40];
    var yTicksA = [0, 5, 10, 15, 20, 25, 30, 35, 40, 45, 50, 55, 60];
    var yLabelsA = [0, 10, 20, 30, 40, 50, 60];
    var xTicksAB = [-20, -15, -10, -5, 0, 5, 10, 15, 20];
    var xLabelsAB = [-20, -10, 0, 10, 20];
    var xTicksC = [-12.5, -10, -7.5, -5, -2.5, 0, 2.5, 5, 7.5, 10, 12.5];
    var xLabelsC = [-10, -5, 0, 5, 10];

    var FONT = '"Liberation Sans", Arial, sans-serif';
    var INK = '#000';

    function axisCfg(gi, min, max, ticks, labels) {
        return {
            type: 'value', gridIndex: gi, min: min, max: max,
            axisLine: {onZero: false, lineStyle: {color: INK, width: 1.5}},
            axisTick: {customValues: ticks, length: 6, lineStyle: {color: INK, width: 1.5}},
            axisLabel: {customValues: labels, color: INK, fontFamily: FONT, fontWeight: 'bold', fontSize: 21, margin: 11},
            splitLine: {show: false}
        };
    }

    function dots(data, gi) {
        return {
            type: 'line', xAxisIndex: gi, yAxisIndex: gi, data: data,
            symbol: 'circle', symbolSize: 6, showAllSymbol: true,
            lineStyle: {color: INK, width: 1.2},
            itemStyle: {color: INK},
            clip: true, animation: false
        };
    }

    function txt(s, x, y, size, rot) {
        return {
            type: 'text', x: x, y: y, rotation: rot || 0,
            style: {text: s, fill: INK, font: 'bold ' + size + 'px ' + FONT, align: 'center', verticalAlign: 'middle'}
        };
    }

    var chart = echarts.init(document.getElementById('main'));
    var option = {
        backgroundColor: '#fff',
        animation: false,
        grid: [
            {left: 91, top: 12, width: 495, height: 399, show: true, borderColor: INK, borderWidth: 1.5, outerBoundsMode: 'none'},
            {left: 88, top: 511, width: 533, height: 401, show: true, borderColor: INK, borderWidth: 1.5, outerBoundsMode: 'none'},
            {left: 87, top: 1024, width: 502, height: 407, show: true, borderColor: INK, borderWidth: 1.5, outerBoundsMode: 'none'}
        ],
        xAxis: [
            axisCfg(0, -25, 25, xTicksAB, xLabelsAB),
            axisCfg(1, -20, 25, xTicksAB, xLabelsAB),
            axisCfg(2, -13, 13, xTicksC, xLabelsC)
        ],
        yAxis: [
            axisCfg(0, -2.5, 65, yTicksA, yLabelsA),
            axisCfg(1, -2.5, 40, yTicks40, yLabels40),
            axisCfg(2, -2.5, 40, yTicks40, yLabels40)
        ],
        series: [
            dots(a700, 0), dots(a720, 0), dots(a750, 0),
            dots(b700, 1), dots(b720, 1), dots(b750, 1),
            dots(c700, 2), dots(c740, 2), dots(c760, 2)
        ],
        graphic: [
            txt('(a)', 557, 33, 20), txt('750K', 552, 140, 21), txt('720K', 552, 247, 21), txt('700K', 552, 364, 21),
            txt('No. Density', 25, 207, 24, Math.PI / 2), txt('Z(A)', 338, 463, 22),
            txt('(b)', 554, 533, 20), txt('750K', 525, 661, 21), txt('720K', 524, 759, 21), txt('700K', 528, 855, 21),
            txt('No. Density', 25, 711, 24, Math.PI / 2), txt('Z(A)', 337, 962, 22),
            txt('(c)', 543, 1064, 20), txt('760K', 549, 1174, 21), txt('740K', 549, 1281, 21), txt('700K', 550, 1332, 21),
            txt('No. density', 25, 1231, 24, Math.PI / 2), txt('z', 357, 1477, 24)
        ]
    };
    chart.setOption(option);
</script>
</body>
</html>
